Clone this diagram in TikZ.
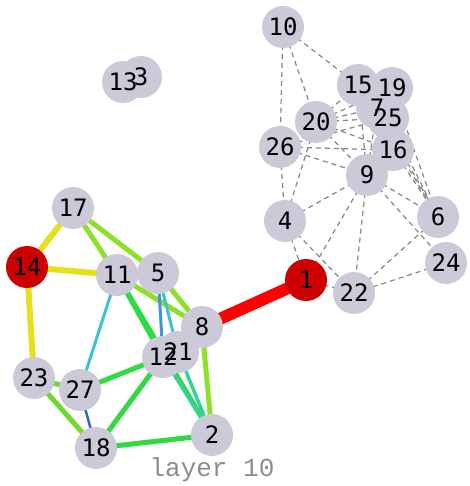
\documentclass[tikz,border=0pt]{standalone}
\usepackage{fontspec}
\newfontfamily\labfont{DejaVu Sans Mono}
\newfontfamily\titfont{Liberation Mono}
\definecolor{nodefill}{HTML}{CCCAD9}
\definecolor{hot}{HTML}{CC0000}
\definecolor{eyellow}{HTML}{E6DF1A}
\definecolor{elime}{HTML}{8EE02A}
\definecolor{elime2}{HTML}{72D830}
\definecolor{egreen}{HTML}{30DA44}
\definecolor{eteal}{HTML}{34D29A}
\definecolor{ecyan}{HTML}{3CC2D2}
\definecolor{eblue}{HTML}{3A62CE}
\definecolor{ebluel}{HTML}{4294D4}
\definecolor{ered}{HTML}{FF0000}
\tikzset{
  vtx/.style={circle,fill=nodefill,minimum size=42pt,inner sep=0pt},
  hotvtx/.style={vtx,fill=hot},
  lab/.style={inner sep=0pt,font=\labfont\fontsize{24}{24}\selectfont},
  dash edge/.style={draw=gray!95,line width=1.2pt,dash pattern=on 5pt off 4pt},
  ey/.style={draw=eyellow,line width=6pt},
  el/.style={draw=elime,line width=5pt},
  el2/.style={draw=elime2,line width=5pt},
  eg/.style={draw=egreen,line width=5pt},
  et/.style={draw=eteal,line width=3.5pt},
  ec/.style={draw=ecyan,line width=3pt},
  eb/.style={draw=eblue,line width=2.5pt},
  ebl/.style={draw=ebluel,line width=3pt},
  er/.style={draw=ered,line width=12pt},
}
\begin{document}
\begin{tikzpicture}[x=1pt,y=-1pt]
\useasboundingbox (0,0) rectangle (469,486);
% coordinates
\coordinate (p10) at (283,27);
\coordinate (p15) at (358,85);
\coordinate (p19) at (392,88);
\coordinate (p7) at (377,108);
\coordinate (p25) at (388,118);
\coordinate (p20) at (316,122);
\coordinate (p26) at (280,147);
\coordinate (p16) at (393,150);
\coordinate (p9) at (367,175);
\coordinate (p4) at (285,221);
\coordinate (p6) at (438,217);
\coordinate (p24) at (446,263);
\coordinate (p1) at (306,280);
\coordinate (p22) at (354,293);
\coordinate (p17) at (73,208);
\coordinate (p14) at (27,267);
\coordinate (p11) at (117,275);
\coordinate (p5) at (158,273);
\coordinate (p8) at (202,327);
\coordinate (p12) at (163,357);
\coordinate (p21) at (178,352);
\coordinate (p23) at (34,378);
\coordinate (p27) at (80,390);
\coordinate (p18) at (96,448);
\coordinate (p2) at (212,435);
\coordinate (p13) at (123,82);
\coordinate (p3) at (141,77);
% dashed edges
\foreach \a/\b in {10/26,10/20,10/15,20/15,20/19,20/7,20/25,20/16,20/9,
  26/16,26/9,26/4,26/25,4/20,4/9,4/22,4/1,9/1,9/22,9/6,9/24,9/15,9/7,
  16/6,15/6,19/6,25/6,7/6,6/22,24/22,1/22}
  \path[dash edge] (p\a) -- (p\b);
% coloured edges
\path[ey] (p14) -- (p17);
\path[ey] (p14) -- (p11);
\path[ey] (p14) -- (p23);
\path[el] (p17) -- (p11);
\path[el] (p17) -- (p5);
\path[el] (p11) -- (p8);
\path[el] (p5) -- (p8);
\path[el] (p8) -- (p2);
\path[el2] (p27) -- (p23);
\path[el2] (p23) -- (p18);
\path[eg] (p11) -- (p12);
\path[eg] (p11) -- (p2);
\path[eg] (p27) -- (p12);
\path[eg] (p12) -- (p18);
\path[eg] (p18) -- (p2);
\path[et] (p12) -- (p2);
\path[et] (p21) -- (p2);
\path[ec] (p5) -- (p21);
\path[ec] (p11) -- (p27);
\path[ebl] (p5) -- (p12);
\path[eb] (p27) -- (p18);
\path[er] (p8) -- (p1);
% node discs
\foreach \n in {10,26,20,15,19,7,25,16,9,4,6,24,22,17,11,5,8,12,21,23,27,18,2,3,13}
  \node[vtx] (n\n) at (p\n) {};
\node[hotvtx] (n1) at (p1) {};
\node[hotvtx] (n14) at (p14) {};
% labels
\foreach \n in {10,26,20,15,19,7,25,16,9,4,6,24,22,1,17,14,11,5,8,12,21,23,27,18,2,13,3}
  \node[lab] (l\n) at (n\n) {\n};
\node[text=gray!90,font=\titfont\fontsize{26}{26}\selectfont] (title) at (212,470) {layer 10};
\end{tikzpicture}
\end{document}
